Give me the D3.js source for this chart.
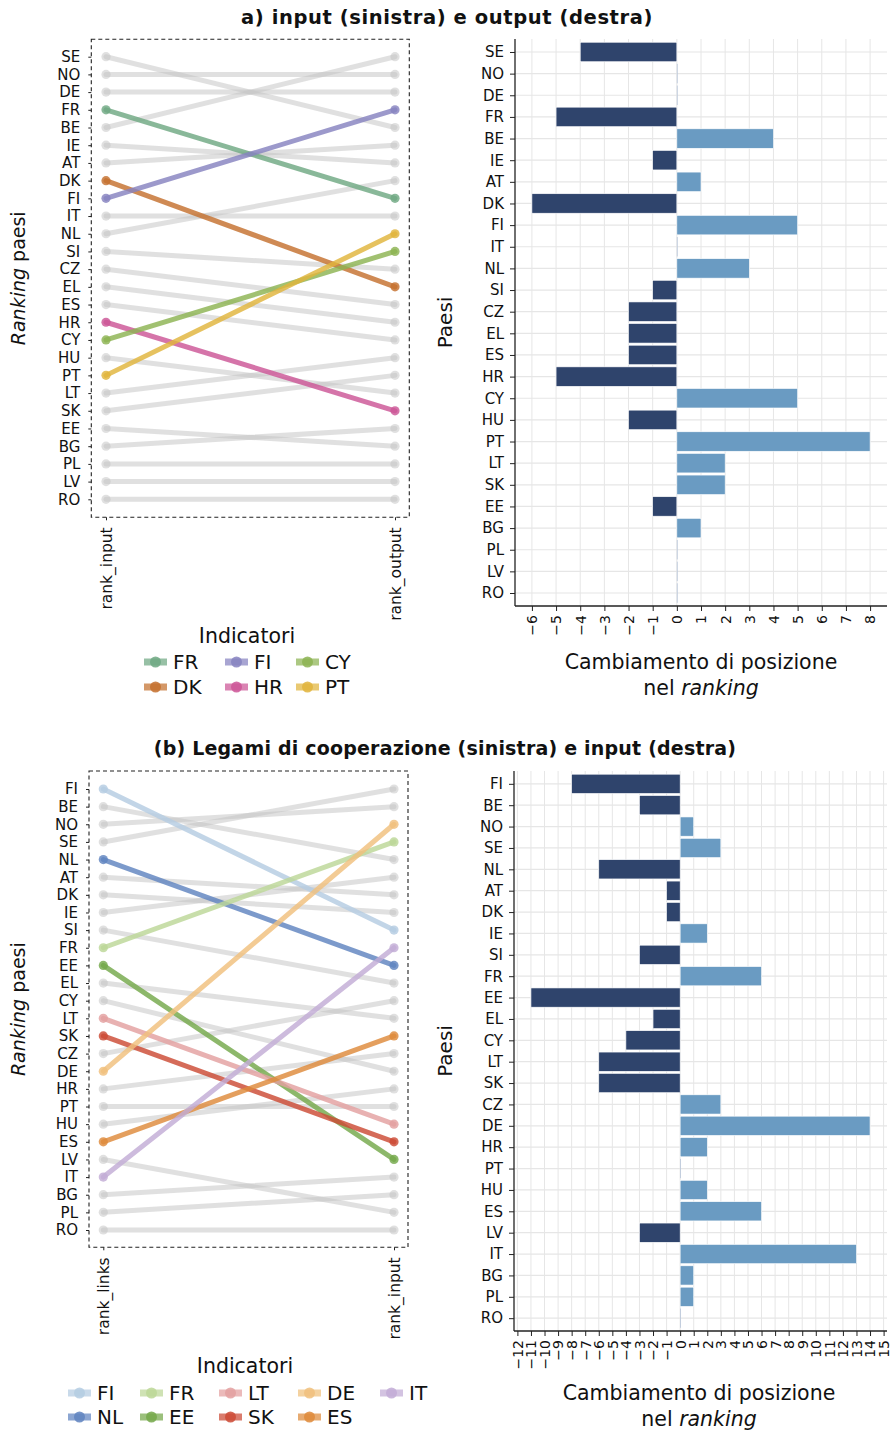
<!DOCTYPE html>
<html><head><meta charset="utf-8">
<script src="https://cdn.jsdelivr.net/npm/d3@7"></script>
<style>body{margin:0;background:#fff}svg{display:block}text{font-family:"DejaVu Sans",sans-serif}</style>
</head><body><svg id="c" width="892" height="1430"></svg>
<script>
// ---------- DATA: panel a ----------
const countriesA = ["SE","NO","DE","FR","BE","IE","AT","DK","FI","IT","NL","SI","CZ","EL","ES","HR","CY","HU","PT","LT","SK","EE","BG","PL","LV","RO"];
const rankInputA = [1,2,3,4,5,6,7,8,9,10,11,12,13,14,15,16,17,18,19,20,21,22,23,24,25,26];
const rankOutputA = [5,2,3,9,1,7,6,14,4,10,8,13,15,16,17,21,12,20,11,18,19,23,22,24,25,26];
const changeA = [-4,0,0,-5,4,-1,1,-6,5,0,3,-1,-2,-2,-2,-5,5,-2,8,2,2,-1,1,0,0,0];
const highlightA = ["FR","DK","FI","HR","CY","PT"];
const highlightColorsA = ["#6fa882","#c4702e","#8682c0","#cc5596","#8cb352","#e0b43c"];
const axisLabelsA = ["rank_input","rank_output"];
const xTicksA = [-6,-5,-4,-3,-2,-1,0,1,2,3,4,5,6,7,8];

// ---------- DATA: panel b ----------
const countriesB = ["FI","BE","NO","SE","NL","AT","DK","IE","SI","FR","EE","EL","CY","LT","SK","CZ","DE","HR","PT","HU","ES","LV","IT","BG","PL","RO"];
const rankLinksB = [1,2,3,4,5,6,7,8,9,10,11,12,13,14,15,16,17,18,19,20,21,22,23,24,25,26];
const rankInputB = [9,5,2,1,11,7,8,6,12,4,22,14,17,20,21,13,3,16,19,18,15,25,10,23,24,26];
const changeB = [-8,-3,1,3,-6,-1,-1,2,-3,6,-11,-2,-4,-6,-6,3,14,2,0,2,6,-3,13,1,1,0];
const highlightB = ["FI","NL","FR","EE","LT","SK","DE","ES","IT"];
const highlightColorsB = ["#b4cce2","#5f84c0","#bcd797","#74a84a","#e3a0a0","#cc4a35","#f0c07c","#de8a3a","#c2acd6"];
const axisLabelsB = ["rank_links","rank_input"];
const xTicksB = [-12,-11,-10,-9,-8,-7,-6,-5,-4,-3,-2,-1,0,1,2,3,4,5,6,7,8,9,10,11,12,13,14,15];

const titles = ["a) input (sinistra) e output (destra)", "(b) Legami di cooperazione (sinistra) e input (destra)"];

const NEG = "#2f446c", POS = "#6a9bc2", GRAY = "#c4c4c4";
const FONT = "DejaVu Sans";
const svg = d3.select("#c");

function rotTitle(g, x, y, parts, size) {
  const t = g.append("text").attr("transform", `translate(${x},${y}) rotate(-90)`)
    .attr("text-anchor", "middle").attr("font-size", size).attr("fill", "#111");
  parts.forEach(p => t.append("tspan").text(p[0]).attr("font-style", p[1] ? "italic" : "normal"));
}

function slope(cfg) {
  const g = svg.append("g");
  const y = d3.scaleLinear().domain([1, 26]).range([cfg.yTop, cfg.yBot]);
  const x = d3.scalePoint().domain(cfg.axisLabels).range([cfg.xl, cfg.xr]);
  const data = cfg.countries.map((c, i) => ({c, l: cfg.left[i], r: cfg.right[i]}));
  const hi = new Set(cfg.highlight);
  const col = c => hi.has(c) ? cfg.colors[cfg.highlight.indexOf(c)] : GRAY;
  g.append("rect").attr("x", cfg.box[0]).attr("y", cfg.box[1])
    .attr("width", cfg.box[2] - cfg.box[0]).attr("height", cfg.box[3] - cfg.box[1])
    .attr("fill", "none").attr("stroke", "#222").attr("stroke-width", 1.1).attr("stroke-dasharray", "4,3");
  const draw = (arr, op) => {
    arr.forEach(d => {
      g.append("line").attr("x1", x(cfg.axisLabels[0])).attr("x2", x(cfg.axisLabels[1]))
        .attr("y1", y(d.l)).attr("y2", y(d.r)).attr("stroke", col(d.c))
        .attr("stroke-width", 5).attr("stroke-opacity", op).attr("stroke-linecap", "round");
      [[cfg.axisLabels[0], d.l], [cfg.axisLabels[1], d.r]].forEach(p => {
        g.append("circle").attr("cx", x(p[0])).attr("cy", y(p[1])).attr("r", 4.6)
          .attr("fill", col(d.c)).attr("fill-opacity", op);
      });
    });
  };
  draw(data.filter(d => !hi.has(d.c)), 0.52);
  draw(data.filter(d => hi.has(d.c)), 0.82);
  const ax = g.append("g").attr("transform", `translate(${cfg.box[0]},0)`)
    .call(d3.axisLeft(y).tickValues(cfg.left).tickFormat((v, i) => cfg.countries[i]).tickSize(3).tickPadding(8));
  ax.select(".domain").remove();
  ax.selectAll("text").attr("font-size", 15).attr("fill", "#111").attr("font-family", FONT);
  ax.selectAll("line").attr("stroke", "#222");
  const bx = g.append("g").attr("transform", `translate(0,${cfg.box[3]})`)
    .call(d3.axisBottom(x).tickSize(3).tickPadding(6));
  bx.select(".domain").remove();
  bx.selectAll("line").attr("stroke", "#222");
  bx.selectAll("text").attr("font-size", 15.5).attr("fill", "#111").attr("font-family", FONT)
    .attr("transform", "rotate(-90)").attr("text-anchor", "end").attr("x", -10).attr("y", 0).attr("dy", "0.35em");
  rotTitle(g, 25, (cfg.box[1] + cfg.box[3]) / 2, [["Ranking", true], [" paesi", false]], 19);
  g.append("text").attr("x", cfg.legTitle[0]).attr("y", cfg.legTitle[1]).attr("text-anchor", "middle")
    .attr("font-size", 20.5).attr("fill", "#111").text("Indicatori");
  cfg.highlight.forEach((c, i) => {
    const colI = Math.floor(i / 2), row = i % 2;
    const gx = cfg.legCols[colI], gy = cfg.legRows[row];
    g.append("line").attr("x1", gx).attr("x2", gx + 23).attr("y1", gy).attr("y2", gy)
      .attr("stroke", cfg.colors[i]).attr("stroke-width", 7).attr("stroke-opacity", 0.72);
    g.append("circle").attr("cx", gx + 11.5).attr("cy", gy).attr("r", 5.5).attr("fill", cfg.colors[i]).attr("fill-opacity", 0.85);
    g.append("text").attr("x", gx + 29).attr("y", gy).attr("dy", "0.36em").attr("font-size", 20)
      .attr("fill", "#111").text(c);
  });
}

function bars(cfg) {
  const g = svg.append("g");
  const y = d3.scalePoint().domain(cfg.countries).range([cfg.top, cfg.bottom]).padding(0.6);
  const x = d3.scaleLinear().domain(cfg.domain).range([cfg.left, cfg.right]);
  const step = y.step();
  g.selectAll(".gv").data(cfg.ticks).join("line").attr("x1", d => x(d)).attr("x2", d => x(d))
    .attr("y1", cfg.top).attr("y2", cfg.bottom).attr("stroke", "#e6e6e6").attr("stroke-width", 1);
  g.selectAll(".gh").data(cfg.countries).join("line").attr("x1", cfg.left).attr("x2", cfg.right)
    .attr("y1", d => y(d)).attr("y2", d => y(d)).attr("stroke", "#e6e6e6").attr("stroke-width", 1.2);
  const data = cfg.countries.map((c, i) => ({c, v: cfg.values[i]}));
  g.selectAll(".bar").data(data).join("rect")
    .attr("x", d => x(Math.min(0, d.v))).attr("width", d => Math.max(Math.abs(x(d.v) - x(0)), 0.8))
    .attr("y", d => y(d.c) - step * 0.45).attr("height", step * 0.9)
    .attr("fill", d => d.v < 0 ? NEG : (d.v > 0 ? POS : "#b8c6da"))
    .attr("stroke", d => d.v === 0 ? "none" : "#fff").attr("stroke-width", 0.6);
  const ay = g.append("g").attr("transform", `translate(${cfg.left},0)`)
    .call(d3.axisLeft(y).tickSize(5).tickPadding(6));
  ay.select(".domain").attr("stroke", "#222").attr("stroke-width", 1.3).attr("d", `M0,${cfg.top}V${cfg.bottom}`);
  ay.selectAll("line").attr("stroke", "#222");
  ay.selectAll("text").attr("font-size", 15).attr("fill", "#111").attr("font-family", FONT);
  const axb = g.append("g").attr("transform", `translate(0,${cfg.bottom})`)
    .call(d3.axisBottom(x).tickValues(cfg.ticks).tickFormat(d => d < 0 ? "\u2212" + (-d) : d).tickSize(5).tickPadding(6));
  axb.select(".domain").attr("stroke", "#222").attr("stroke-width", 1.3).attr("d", `M${cfg.left},0H${cfg.right}`);
  axb.selectAll("line").attr("stroke", "#222");
  axb.selectAll("text").attr("font-size", 14).attr("fill", "#111").attr("font-family", FONT)
    .attr("transform", "rotate(-90)").attr("text-anchor", "end").attr("x", -9).attr("y", 0).attr("dy", "0.35em");
  rotTitle(g, 452, (cfg.top + cfg.bottom) / 2, [["Paesi", false]], 20);
  const cx = cfg.cx;
  g.append("text").attr("x", cx).attr("y", cfg.xt).attr("text-anchor", "middle").attr("font-size", 20.5)
    .attr("fill", "#111").text("Cambiamento di posizione");
  const t2 = g.append("text").attr("x", cx).attr("y", cfg.xt + 26).attr("text-anchor", "middle").attr("font-size", 20.5).attr("fill", "#111");
  t2.append("tspan").text("nel ");
  t2.append("tspan").attr("font-style", "italic").text("ranking");
}

svg.append("text").attr("x", 447).attr("y", 24).attr("text-anchor", "middle").attr("font-size", 19.5)
  .attr("letter-spacing", 0.6).attr("font-weight", "bold").attr("fill", "#111").text(titles[0]);
svg.append("text").attr("x", 445).attr("y", 755).attr("text-anchor", "middle").attr("font-size", 19)
  .attr("letter-spacing", 0.2).attr("font-weight", "bold").attr("fill", "#111").text(titles[1]);

slope({countries: countriesA, left: rankInputA, right: rankOutputA, highlight: highlightA, colors: highlightColorsA,
  axisLabels: axisLabelsA, xl: 106, xr: 395, yTop: 56.7, yBot: 499.3, box: [91.3, 39.3, 409.3, 517.3],
  legTitle: [247, 643], legCols: [144, 225, 296], legRows: [662, 687]});
bars({countries: countriesA, values: changeA, ticks: xTicksA, domain: [-6.7, 8.7], left: 515, right: 887,
  top: 39, bottom: 606, xt: 669, cx: 701});

slope({countries: countriesB, left: rankLinksB, right: rankInputB, highlight: highlightB, colors: highlightColorsB,
  axisLabels: axisLabelsB, xl: 103.3, xr: 394, yTop: 789, yBot: 1230, box: [89, 771, 408, 1247.3],
  legTitle: [245, 1373], legCols: [68, 140, 219, 298, 380], legRows: [1393, 1417]});
bars({countries: countriesB, values: changeB, ticks: xTicksB, domain: [-12.25, 15.25], left: 514, right: 887,
  top: 771, bottom: 1331, xt: 1400, cx: 699});
</script></body></html>
